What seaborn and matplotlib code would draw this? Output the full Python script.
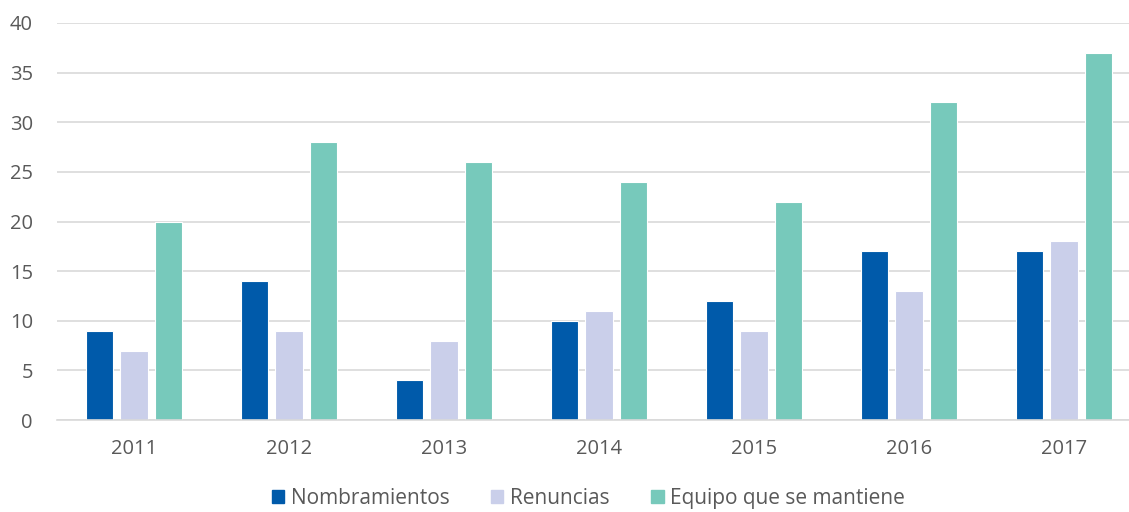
import matplotlib
matplotlib.use("Agg")
import matplotlib.pyplot as plt
import seaborn as sns
import pandas as pd

years = ["2011", "2012", "2013", "2014", "2015", "2016", "2017"]
nombramientos = [9, 14, 4, 10, 12, 17, 17]
renuncias = [7, 9, 8, 11, 9, 13, 18]
equipo = [20, 28, 26, 24, 22, 32, 37]
series_names = ["Nombramientos", "Renuncias", "Equipo que se mantiene"]
colors = ["#005AAA", "#CACFEA", "#77C9BB"]

df = pd.DataFrame({
    "Año": years * 3,
    "Valor": nombramientos + renuncias + equipo,
    "Serie": [series_names[0]] * 7 + [series_names[1]] * 7 + [series_names[2]] * 7,
})

sns.set_theme(style="white")
plt.rcParams["font.family"] = ["Open Sans", "DejaVu Sans"]

fig = plt.figure(figsize=(11.29, 5.12), dpi=100)
# plot area runs slightly past the right edge of the canvas
ax = fig.add_axes([56.5 / 1129, 1 - 420 / 512, 1085 / 1129, 397 / 512])

sns.barplot(data=df, x="Año", y="Valor", hue="Serie", palette=colors,
            width=0.67, gap=0.2, ax=ax, saturation=1, linewidth=0.8,
            edgecolor="white")

ax.set_ylim(0, 40)
ax.set_xlim(-0.5, 6.5)
ax.set_yticks(range(0, 41, 5))
ax.yaxis.grid(True, color="#D9D9D9", linewidth=1.2)
ax.set_axisbelow(True)
for s in ["top", "right", "left"]:
    ax.spines[s].set_visible(False)
ax.spines["bottom"].set_color("#D9D9D9")
ax.spines["bottom"].set_linewidth(1.2)
ax.set_xlabel("")
ax.set_ylabel("")
ax.tick_params(axis="both", length=0, labelsize=14.5, colors="#595959")
ax.tick_params(axis="x", pad=14)
ax.tick_params(axis="y", pad=17)

ax.legend_.remove()
handles = [plt.Rectangle((0, 0), 1, 1, color=c) for c in colors]
fig.legend(handles, series_names, loc="center", bbox_to_anchor=(0.521, 0.027),
           ncol=3, frameon=False, fontsize=15, handlelength=0.6,
           handleheight=0.6, handletextpad=0.3, columnspacing=2.0,
           labelcolor="#595959", borderpad=0)

fig.savefig("out.png", dpi=100)
